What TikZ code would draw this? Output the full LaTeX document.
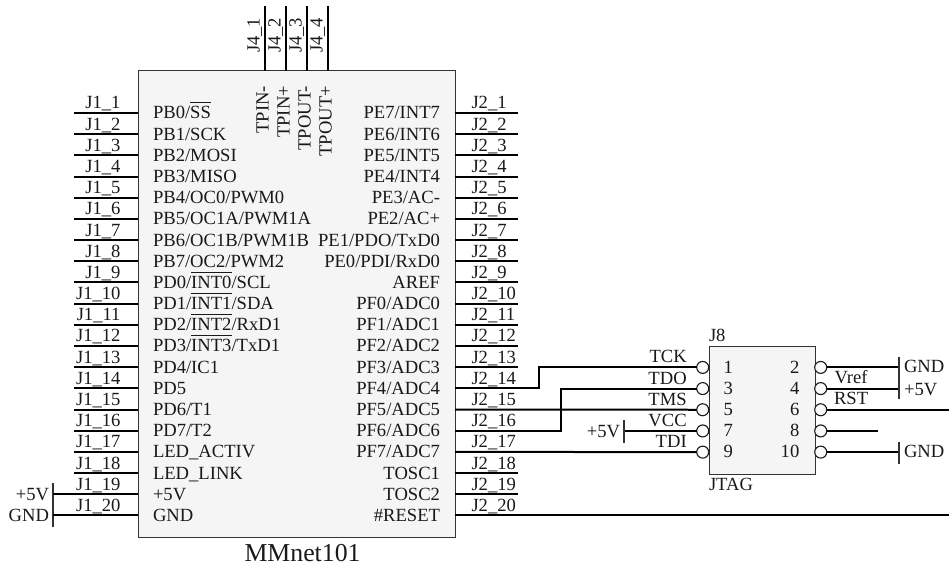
\documentclass[tikz,border=0pt]{standalone}
\usepackage{fontspec}
\setmainfont{Liberation Serif}
\newcommand{\ovl}[1]{\leavevmode\vbox{\hrule height 1.2pt\kern 3.2pt\hbox{#1}}}
\tikzset{
  x=1pt,y=-1pt,
  every node/.style={inner sep=0pt,outer sep=0pt,font=\fontsize{18.6}{20}\selectfont,text=black!90},
  wire/.style={line width=2pt,black},
  chip/.style={draw=black!80,fill=black!4,line width=1pt,inner sep=0pt},
  pinmark/.style={circle,draw=black!90,fill=black!2,line width=1.1pt,minimum size=12pt},
  bar/.style={line width=1.8pt,black!80},
  lw/.style={anchor=base west},
  le/.style={anchor=base east},
  vtxt/.style={rotate=90,anchor=base east},
  vtxtw/.style={rotate=90,anchor=base west}
}
\begin{document}
\begin{tikzpicture}
\useasboundingbox (0,0) rectangle (949,564);
\node[chip,minimum width=317pt,minimum height=466pt] (chip) at (296.5,304) {};
\node[chip,minimum width=106pt,minimum height=127.3pt] (jtag) at (762,410.35) {};
% left side of chip
\foreach \i/\t in {1/{PB0/\ovl{SS}},2/{PB1/SCK},3/{PB2/MOSI},4/{PB3/MISO},5/{PB4/OC0/PWM0},6/{PB5/OC1A/PWM1A},7/{PB6/OC1B/PWM1B},8/{PB7/OC2/PWM2},9/{PD0/\ovl{INT0}/SCL},10/{PD1/\ovl{INT1}/SDA},11/{PD2/\ovl{INT2}/RxD1},12/{PD3/\ovl{INT3}/TxD1},13/{PD4/IC1},14/{PD5},15/{PD6/T1},16/{PD7/T2},17/{LED\_ACTIV},18/{LED\_LINK},19/{+5V},20/{GND}}{
  \pgfmathsetmacro{\py}{113+(\i-1)*21.18}
  \coordinate (L\i) at (138,\py);
  \coordinate (LE\i) at (74,\py);
  \draw[wire] (L\i) -- (LE\i);
  \node[le] (LN\i) at (120.5,\py-4) {J1\_\i};
  \node[lw] (LT\i) at (153,\py+6) {\t};
}
% right side of chip
\foreach \i/\t in {1/{PE7/INT7},2/{PE6/INT6},3/{PE5/INT5},4/{PE4/INT4},5/{PE3/AC-},6/{PE2/AC+},7/{PE1/PDO/TxD0},8/{PE0/PDI/RxD0},9/{AREF},10/{PF0/ADC0},11/{PF1/ADC1},12/{PF2/ADC2},13/{PF3/ADC3},14/{PF4/ADC4},15/{PF5/ADC5},16/{PF6/ADC6},17/{PF7/ADC7},18/{TOSC1},19/{TOSC2},20/{\#RESET}}{
  \pgfmathsetmacro{\py}{113+(\i-1)*21.18}
  \coordinate (R\i) at (455,\py);
  \coordinate (RE\i) at (518,\py);
  \node[lw] (RN\i) at (471.5,\py-4) {J2\_\i};
  \node[le] (RT\i) at (440,\py+6) {\t};
}
\foreach \i in {1,...,13,18,19}{\draw[wire] (R\i) -- (RE\i);}
% top pins
\foreach \i/\t/\px in {1/TPIN-/265,2/TPIN+/286,3/TPOUT-/307,4/TPOUT+/328}{
  \coordinate (T\i) at (\px,71);
  \coordinate (TE\i) at (\px,6);
  \draw[wire] (T\i) -- (TE\i);
  \node[vtxtw] (TN\i) at (\px-5.5,53) {J4\_\i};
  \node[vtxt] (TT\i) at (\px+3.5,86) {\t};
}
% JTAG pins
\foreach \i/\t/\n in {1/TCK/1,2/TDO/3,3/TMS/5,4/VCC/7,5/TDI/9}{
  \pgfmathsetmacro{\py}{367.4+(\i-1)*21.18}
  \node[pinmark] (PL\i) at (702.7,\py) {};
  \node[le] (PLT\i) at (686.7,\py-4.5) {\t};
  \node[anchor=base] (PLN\i) at (728.3,\py+5.8) {\n};
}
\foreach \i/\n in {1/2,2/4,3/6,4/8,5/10}{
  \pgfmathsetmacro{\py}{367.4+(\i-1)*21.18}
  \node[pinmark] (PR\i) at (820.7,\py) {};
  \node[le] (PRN\i) at (799.3,\py+5.8) {\n};
}
\draw[wire] (R14) -- (539.3,0|-R14) -- (539.3,0|-PL1) -- (PL1);
\draw[wire] (R16) -- (560.7,0|-R16) -- (560.7,0|-PL2) -- (PL2);
\draw[wire] (R15) -- (PL3);
\draw[wire] (R17) -- (PL5);
\coordinate (EE) at (949,0|-R20);
\draw[wire] (R20) -- (EE);
\node[lw] (VR) at (834.5,383.5) {Vref};
\node[lw] (RS) at (834,404.3) {RST};
\coordinate (G1) at (899.3,0|-PR1);
\coordinate (V1) at (899.3,0|-PR2);
\coordinate (G2) at (899.3,0|-PR5);
\coordinate (V2) at (624,0|-PL4);
\coordinate (E6) at (949,0|-PR3);
\coordinate (E8) at (878.3,0|-PR4);
\draw[wire] (PR1) -- (G1);
\draw[wire] (PR2) -- (V1);
\draw[wire] (PR3) -- (E6);
\draw[wire] (PR4) -- (E8);
\draw[wire] (PR5) -- (G2);
\draw[wire] (PL4) -- (V2);
\draw[bar] (899.3,356.7) -- (899.3,399.3);
\draw[bar] (899.3,441.5) -- (899.3,463.5);
\draw[bar] (624,420) -- (624,442.7);
\draw[bar] (53.3,483) -- (53.3,526.7);
\coordinate (G3) at (53.3,0|-L20);
\coordinate (V3) at (53.3,0|-L19);
\draw[wire] (LE19) -- (V3);
\draw[wire] (LE20) -- (G3);
\node[lw] (t1) at (904,372.5) {GND};
\node[lw] (t2) at (904,395) {+5V};
\node[lw] (t3) at (904,457.5) {GND};
\node[le] (t4) at (620,437.3) {+5V};
\node[le] (t5) at (49,500.5) {+5V};
\node[le] (t6) at (49,521.5) {GND};
\node[lw] (t7) at (709,341.7) {J8};
\node[lw] (t8) at (709,490) {JTAG};
\node[lw,font=\fontsize{25.8}{27}\selectfont] (t9) at (244.5,561.5) {MMnet101};
\end{tikzpicture}
\end{document}
